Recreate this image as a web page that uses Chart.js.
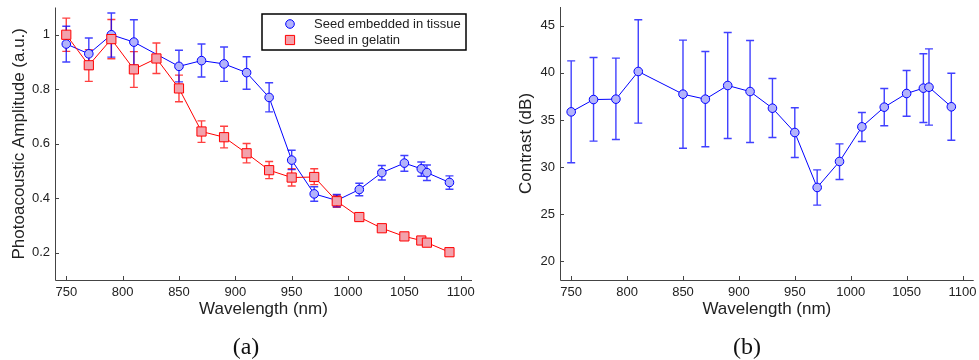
<!DOCTYPE html>
<html lang="en">
<head>
    <meta charset="UTF-8">
    <title>Photoacoustic amplitude and contrast</title>
    <script src="https://cdn.jsdelivr.net/npm/chart.js"></script>
    <style>
        body { margin: 0; background: #fff; width: 979px; height: 360px; position: relative; overflow: hidden; }
        canvas { position: absolute; top: 0; }
        #ampChart { left: 0; }
        #contrastChart { left: 490px; }
        .panel-label { position: absolute; top: 333px; width: 60px; text-align: center;
            font-family: 'Liberation Serif', 'Times New Roman', serif; font-size: 24px; color: #111; }
    </style>
</head>
<body>
    <canvas id="ampChart" width="490" height="340"></canvas>
    <canvas id="contrastChart" width="489" height="340"></canvas>
    <div class="panel-label" style="left:216px">(a)</div>
    <div class="panel-label" style="left:717px">(b)</div>

    <script>
        // panel (a): seed embedded in tissue
        const tissueNm   = [750, 770, 790, 810, 850, 870, 890, 910, 930, 950, 970, 990, 1010, 1030, 1050, 1065, 1070, 1090];
        const tissueAmp  = [0.966, 0.930, 1.000, 0.973, 0.884, 0.905, 0.893, 0.861, 0.770, 0.540, 0.416, 0.392, 0.432, 0.494, 0.529, 0.508, 0.494, 0.458];
        const tissueLow  = [0.900, 0.873, 0.918, 0.888, 0.827, 0.845, 0.829, 0.800, 0.717, 0.505, 0.389, 0.369, 0.409, 0.467, 0.499, 0.481, 0.465, 0.433];
        const tissueHigh = [1.031, 0.988, 1.080, 1.055, 0.943, 0.966, 0.955, 0.919, 0.824, 0.576, 0.442, 0.414, 0.455, 0.520, 0.557, 0.533, 0.522, 0.482];

        // panel (a): seed in gelatin
        const gelatinNm   = [750, 770, 790, 810, 830, 850, 870, 890, 910, 930, 950, 970, 990, 1010, 1030, 1050, 1065, 1070, 1090];
        const gelatinAmp  = [1.000, 0.888, 0.984, 0.873, 0.913, 0.803, 0.645, 0.624, 0.565, 0.503, 0.476, 0.478, 0.389, 0.331, 0.290, 0.260, 0.245, 0.237, 0.202];
        const gelatinLow  = [0.939, 0.829, 0.912, 0.807, 0.858, 0.754, 0.605, 0.585, 0.530, 0.472, 0.445, 0.450, 0.367, 0.317, 0.282, 0.254, 0.240, 0.232, 0.198];
        const gelatinHigh = [1.061, 0.945, 1.056, 0.938, 0.970, 0.852, 0.684, 0.664, 0.601, 0.535, 0.508, 0.508, 0.411, 0.344, 0.298, 0.266, 0.250, 0.242, 0.206];

        // panel (b): contrast
        const contrastNm   = [750, 770, 790, 810, 850, 870, 890, 910, 930, 950, 970, 990, 1010, 1030, 1050, 1065, 1070, 1090];
        const contrastDb   = [35.86, 37.17, 37.21, 40.15, 37.74, 37.21, 38.66, 38.02, 36.25, 33.67, 27.83, 30.59, 34.27, 36.36, 37.81, 38.38, 38.48, 36.40];
        const contrastLow  = [30.45, 32.75, 32.93, 34.66, 32.00, 32.15, 33.03, 32.61, 33.14, 31.01, 25.95, 28.68, 32.71, 34.38, 35.40, 34.73, 34.45, 32.85];
        const contrastHigh = [41.28, 41.64, 41.57, 45.64, 43.48, 42.27, 44.29, 43.44, 39.40, 36.29, 29.70, 32.46, 35.79, 38.34, 40.25, 42.03, 42.55, 39.97];

        const xTicks = [750, 800, 850, 900, 950, 1000, 1050, 1100];
        const ampTicks = [0.2, 0.4, 0.6, 0.8, 1];
        const contrastTicks = [20, 25, 30, 35, 40, 45];

        const FONT = "'Liberation Sans', Arial, sans-serif";
        const TEXT = '#222';
        const AXIS = '#444';

        function points(xs, ys) {
            return xs.map((x, i) => ({ x: x, y: ys[i] }));
        }

        // vertical error bars with caps, under the markers
        const errorBars = {
            id: 'errorBars',
            beforeDatasetsDraw(chart) {
                const ctx = chart.ctx;
                const xs = chart.scales.x, ys = chart.scales.y;
                chart.data.datasets.forEach(ds => {
                    if (!ds.errLow) return;
                    ctx.save();
                    ctx.strokeStyle = ds.errColor;
                    ctx.lineWidth = 1.4;
                    ds.data.forEach((p, i) => {
                        const px = xs.getPixelForValue(p.x);
                        const y1 = ys.getPixelForValue(ds.errLow[i]);
                        const y2 = ys.getPixelForValue(ds.errHigh[i]);
                        ctx.beginPath();
                        ctx.moveTo(px, y1); ctx.lineTo(px, y2);
                        ctx.moveTo(px - 4, y1); ctx.lineTo(px + 4, y1);
                        ctx.moveTo(px - 4, y2); ctx.lineTo(px + 4, y2);
                        ctx.stroke();
                    });
                    ctx.restore();
                });
            }
        };

        // left/bottom axis lines with inward ticks (matlab style)
        const matlabAxes = {
            id: 'matlabAxes',
            afterDraw(chart) {
                const ctx = chart.ctx;
                const a = chart.chartArea;
                const xs = chart.scales.x, ys = chart.scales.y;
                ctx.save();
                ctx.strokeStyle = AXIS;
                ctx.lineWidth = 1;
                ctx.beginPath();
                ctx.moveTo(a.left + 0.5, a.top);
                ctx.lineTo(a.left + 0.5, a.bottom + 0.5);
                ctx.lineTo(a.right, a.bottom + 0.5);
                xs.ticks.forEach(t => {
                    const px = Math.round(xs.getPixelForValue(t.value)) + 0.5;
                    ctx.moveTo(px, a.bottom);
                    ctx.lineTo(px, a.bottom - 4);
                });
                ys.ticks.forEach(t => {
                    const py = Math.round(ys.getPixelForValue(t.value)) + 0.5;
                    ctx.moveTo(a.left, py);
                    ctx.lineTo(a.left + 4, py);
                });
                ctx.stroke();
                ctx.restore();
            }
        };

        // boxed legend in the top right corner of panel (a)
        const boxLegend = {
            id: 'boxLegend',
            afterDraw(chart) {
                const opts = chart.options.plugins.boxLegend;
                if (!opts || !opts.show) return;
                const ctx = chart.ctx;
                ctx.save();
                ctx.lineWidth = 1.5;
                ctx.strokeStyle = '#000';
                ctx.strokeRect(262, 14, 204, 36);
                ctx.font = '13px ' + FONT;
                ctx.textBaseline = 'middle';
                opts.order.forEach((dsIndex, row) => {
                    const ds = chart.data.datasets[dsIndex];
                    const y = 24 + row * 16;
                    ctx.fillStyle = ds.pointBackgroundColor;
                    ctx.strokeStyle = ds.pointBorderColor;
                    ctx.lineWidth = ds.pointBorderWidth;
                    ctx.beginPath();
                    if (ds.pointStyle === 'rect') {
                        const s = ds.pointRadius * Math.SQRT1_2;
                        ctx.rect(290 - s, y - s, 2 * s, 2 * s);
                    } else {
                        ctx.arc(290, y, ds.pointRadius, 0, Math.PI * 2);
                    }
                    ctx.fill();
                    ctx.stroke();
                    ctx.fillStyle = TEXT;
                    ctx.fillText(ds.label, 314, y + 0.5);
                });
                ctx.restore();
            }
        };

        function axisOptions(yMin, yMax, yTicks, yTitle, yWidth, yTitlePad) {
            return {
                x: {
                    type: 'linear',
                    min: 740,
                    max: 1110,
                    afterBuildTicks: s => { s.ticks = xTicks.map(v => ({ value: v })); },
                    afterFit: s => { s.height = 50; s.paddingLeft = 0; s.paddingRight = 0; },
                    grid: { display: false, drawTicks: false },
                    border: { display: false },
                    ticks: { padding: 5, color: TEXT, font: { family: FONT, size: 13 }, maxRotation: 0,
                             callback: v => String(v) },
                    title: { display: true, text: 'Wavelength (nm)', color: TEXT,
                             font: { family: FONT, size: 17 }, padding: { top: 0, bottom: 10 } }
                },
                y: {
                    type: 'linear',
                    min: yMin,
                    max: yMax,
                    afterBuildTicks: s => { s.ticks = yTicks.map(v => ({ value: v })); },
                    afterFit: s => { s.width = yWidth; s.paddingTop = 0; s.paddingBottom = 0; },
                    grid: { display: false, drawTicks: false },
                    border: { display: false },
                    ticks: { padding: 5, color: TEXT, font: { family: FONT, size: 13 },
                             callback: v => String(v) },
                    title: { display: true, text: yTitle, color: TEXT,
                             font: { family: FONT, size: 17 }, padding: { top: yTitlePad, bottom: 0 } }
                }
            };
        }

        new Chart(document.getElementById('ampChart'), {
            type: 'line',
            data: {
                datasets: [
                    {
                        label: 'Seed in gelatin',
                        data: points(gelatinNm, gelatinAmp),
                        errLow: gelatinLow,
                        errHigh: gelatinHigh,
                        errColor: 'rgba(255, 0, 0, 0.75)',
                        borderColor: '#ff0000',
                        borderWidth: 1,
                        pointStyle: 'rect',
                        pointRadius: 6.5,
                        pointBorderWidth: 1,
                        pointBackgroundColor: '#f2a2ac',
                        pointBorderColor: '#ff0000',
                        tension: 0
                    },
                    {
                        label: 'Seed embedded in tissue',
                        data: points(tissueNm, tissueAmp),
                        errLow: tissueLow,
                        errHigh: tissueHigh,
                        errColor: 'rgba(0, 0, 255, 0.75)',
                        borderColor: '#0000ff',
                        borderWidth: 1,
                        pointStyle: 'circle',
                        pointRadius: 4.3,
                        pointBorderWidth: 1,
                        pointBackgroundColor: '#b3b3fb',
                        pointBorderColor: '#0000ff',
                        tension: 0
                    }
                ]
            },
            options: {
                responsive: false,
                animation: false,
                layout: { padding: { left: 0, right: 18, top: 7, bottom: 10 } },
                scales: axisOptions(0.1, 1.1, ampTicks, 'Photoacoustic Amplitude (a.u.)', 55, 9),
                plugins: {
                    legend: { display: false },
                    tooltip: { enabled: false },
                    boxLegend: { show: true, order: [1, 0] }
                }
            },
            plugins: [errorBars, matlabAxes, boxLegend]
        });

        new Chart(document.getElementById('contrastChart'), {
            type: 'line',
            data: {
                datasets: [
                    {
                        label: 'Contrast',
                        data: points(contrastNm, contrastDb),
                        errLow: contrastLow,
                        errHigh: contrastHigh,
                        errColor: 'rgba(0, 0, 255, 0.75)',
                        borderColor: '#0000ff',
                        borderWidth: 1,
                        pointStyle: 'circle',
                        pointRadius: 4.3,
                        pointBorderWidth: 1,
                        pointBackgroundColor: '#b3b3fb',
                        pointBorderColor: '#0000ff',
                        tension: 0
                    }
                ]
            },
            options: {
                responsive: false,
                animation: false,
                layout: { padding: { left: 0, right: 4, top: 7, bottom: 10 } },
                scales: axisOptions(18, 47, contrastTicks, 'Contrast (dB)', 70, 26),
                plugins: {
                    legend: { display: false },
                    tooltip: { enabled: false }
                }
            },
            plugins: [errorBars, matlabAxes]
        });
    </script>
</body>
</html>
